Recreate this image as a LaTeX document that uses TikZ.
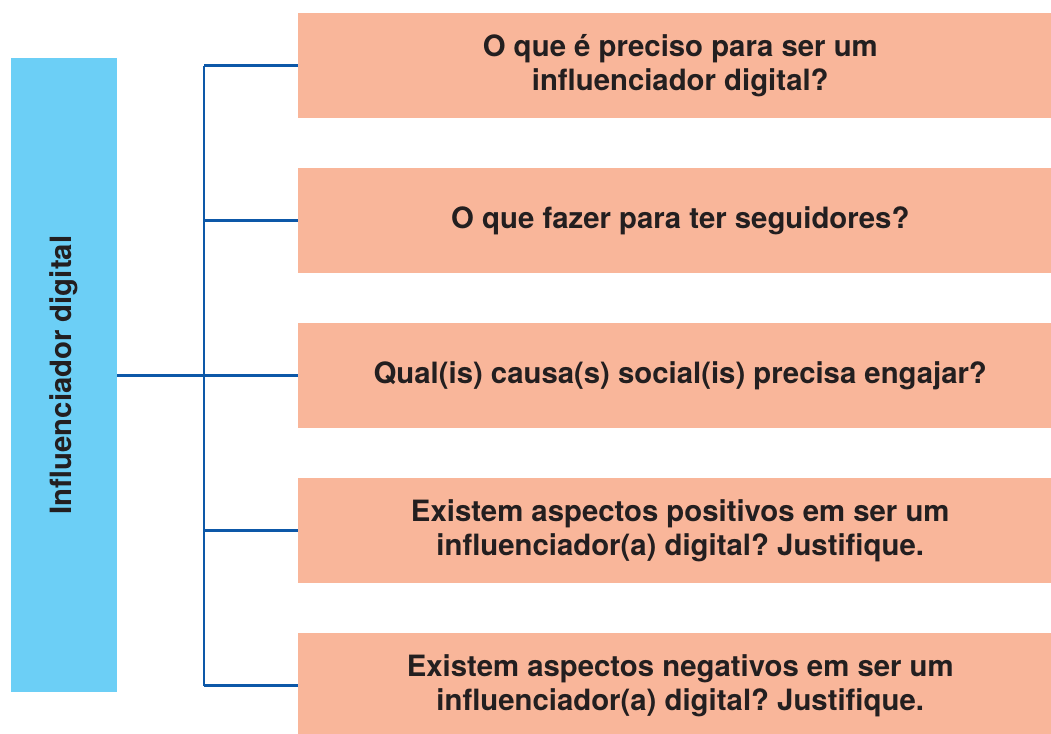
\documentclass[tikz,border=0pt]{standalone}
\usepackage{fontspec}
\setmainfont{TeX Gyre Heros}
\usepackage{tikz}
\usetikzlibrary{calc}
\definecolor{rootblue}{HTML}{6CCFF6}
\definecolor{qpink}{HTML}{F9B69A}
\definecolor{linkblue}{HTML}{0D58A8}
\definecolor{txtdark}{HTML}{231F20}
\frenchspacing
\tikzset{
  rootbox/.style={fill=rootblue, minimum width=79.5pt, minimum height=475.5pt, inner sep=0pt, text=txtdark, font=\fontsize{22}{25.5}\selectfont\bfseries},
  qbox/.style={fill=qpink, anchor=west, minimum width=573pt, minimum height=78.75pt, inner sep=0pt, align=center, text=txtdark, font=\fontsize{22}{25.5}\selectfont\bfseries},
  link/.style={draw=linkblue, line width=1.6pt}
}
\begin{document}
\begin{tikzpicture}[x=0.75pt, y=-0.75pt]
\useasboundingbox (0,0) rectangle (1051,733);
\node[rootbox] (root) at (64,375) {\rotatebox{90}{Influenciador digital}};
\node[qbox] (q1) at (298,65.5) {O que é preciso para ser um\\influenciador digital?};
\node[qbox] (q2) at (298,220.5) {O que fazer para ter seguidores?};
\node[qbox] (q3) at (298,375.5) {Qual(is) causa(s) social(is) precisa engajar?};
\node[qbox] (q4) at (298,530.5) {Existem aspectos positivos em ser um\\influenciador(a) digital? Justifique.};
\node[qbox] (q5) at (298,685.5) {Existem aspectos negativos em ser um\\influenciador(a) digital? Justifique.};
\coordinate (spine) at (204,375.5);
% tree connectors
\draw[link] (root.east |- q3.west) -- (q3.west);
\draw[link] (q1.west -| spine) -- (q5.west -| spine);
\foreach \i in {1,2,4,5}
  \draw[link] (q\i.west -| spine) -- (q\i.west);
\end{tikzpicture}
\end{document}
